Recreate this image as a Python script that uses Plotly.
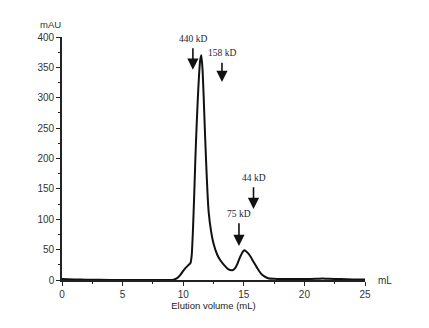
import plotly.graph_objects as go

# Chromatogram trace (elution volume in mL, absorbance in mAU)
volume_ml = [0, 1, 2, 4, 6, 8, 9.0, 9.2, 9.5, 9.75, 10.0, 10.2, 10.45, 10.6, 10.7, 10.8, 10.9,
             11.0, 11.1, 11.2, 11.3, 11.4, 11.5, 11.6, 11.7, 11.8, 11.9, 12.0, 12.1, 12.3, 12.5,
             12.8, 13.05, 13.4, 13.7, 14.05, 14.3, 14.5, 14.7, 14.9, 15.05, 15.2, 15.4, 15.6,
             15.8, 16.1, 16.4, 16.7, 17.0, 17.5, 18, 19, 20, 21, 21.5, 22, 23, 24, 25]
absorbance_mau = [1.5, 1, 0.5, 0, 0, 0, 0, 0.5, 3, 8, 15, 20, 25, 28, 40, 80, 135,
                  197, 250, 296, 335, 362, 370, 345, 296, 240, 190, 145, 112, 80, 60,
                  42, 33, 24, 18, 16, 20, 28, 38, 46, 49, 47, 43, 37,
                  30, 20, 11, 6, 3, 2, 1.5, 1.5, 1.5, 2, 2.5, 2, 1.5, 1, 1]

# Molecular weight markers
marker_labels = ["440 kD", "158 kD", "75 kD", "44 kD"]
marker_volume = [10.8, 13.2, 14.6, 15.8]
marker_tip = [346, 326, 56, 117]
marker_tail = [384, 360, 96, 155]

fig = go.Figure()
fig.add_trace(go.Scatter(x=volume_ml, y=absorbance_mau, mode="lines",
                         line=dict(color="#111111", width=2, shape="spline", smoothing=0.5),
                         showlegend=False, hoverinfo="skip"))

for lab, xv, tip, tail in zip(marker_labels, marker_volume, marker_tip, marker_tail):
    fig.add_annotation(x=xv, y=tip, ax=xv, ay=tail, axref="x", ayref="y", xref="x", yref="y",
                       text="", showarrow=True, arrowhead=2, arrowsize=1.4, arrowwidth=1.6,
                       arrowcolor="#111111")
    fig.add_annotation(x=xv, y=tail, xref="x", yref="y", text=lab, showarrow=False,
                       yanchor="bottom", yshift=1,
                       font=dict(family="Liberation Serif", size=9.5, color="#22223a"))

fig.add_annotation(text="mAU", xref="paper", yref="paper", x=-0.079, y=1.053, xanchor="left",
                   yanchor="middle", showarrow=False,
                   font=dict(family="Liberation Sans", size=9.5, color="#333333"))
fig.add_annotation(text="mL", xref="paper", yref="paper", x=1.035, y=0, xanchor="left",
                   yanchor="middle", showarrow=False,
                   font=dict(family="Liberation Sans", size=10, color="#333333"))

axis_font = dict(family="Liberation Sans", size=10, color="#333333")
fig.update_xaxes(range=[0, 25], tickvals=[0, 5, 10, 15, 20, 25], ticks="outside", ticklen=4,
                 tickwidth=1.3, tickcolor="#222222", showline=True, linecolor="#222222",
                 linewidth=1.6, showgrid=False, zeroline=False, tickfont=axis_font,
                 minor=dict(dtick=2.5, tick0=0, ticks="outside", ticklen=2, tickcolor="#222222"),
                 title=dict(text="Elution volume (mL)", standoff=3,
                            font=dict(family="Liberation Sans", size=9.5, color="#222222")))
fig.update_yaxes(range=[0, 400], tickvals=list(range(0, 401, 50)), ticks="outside", ticklen=4,
                 tickwidth=1.3, tickcolor="#222222", showline=True, linecolor="#222222",
                 linewidth=1.6, showgrid=False, zeroline=False, tickfont=axis_font,
                 minor=dict(dtick=25, tick0=0, ticks="outside", ticklen=2, tickcolor="#222222"))

fig.update_layout(width=429, height=328, margin=dict(l=62, r=64, t=37, b=48),
                  paper_bgcolor="white", plot_bgcolor="white")
fig.write_html("out.html")
